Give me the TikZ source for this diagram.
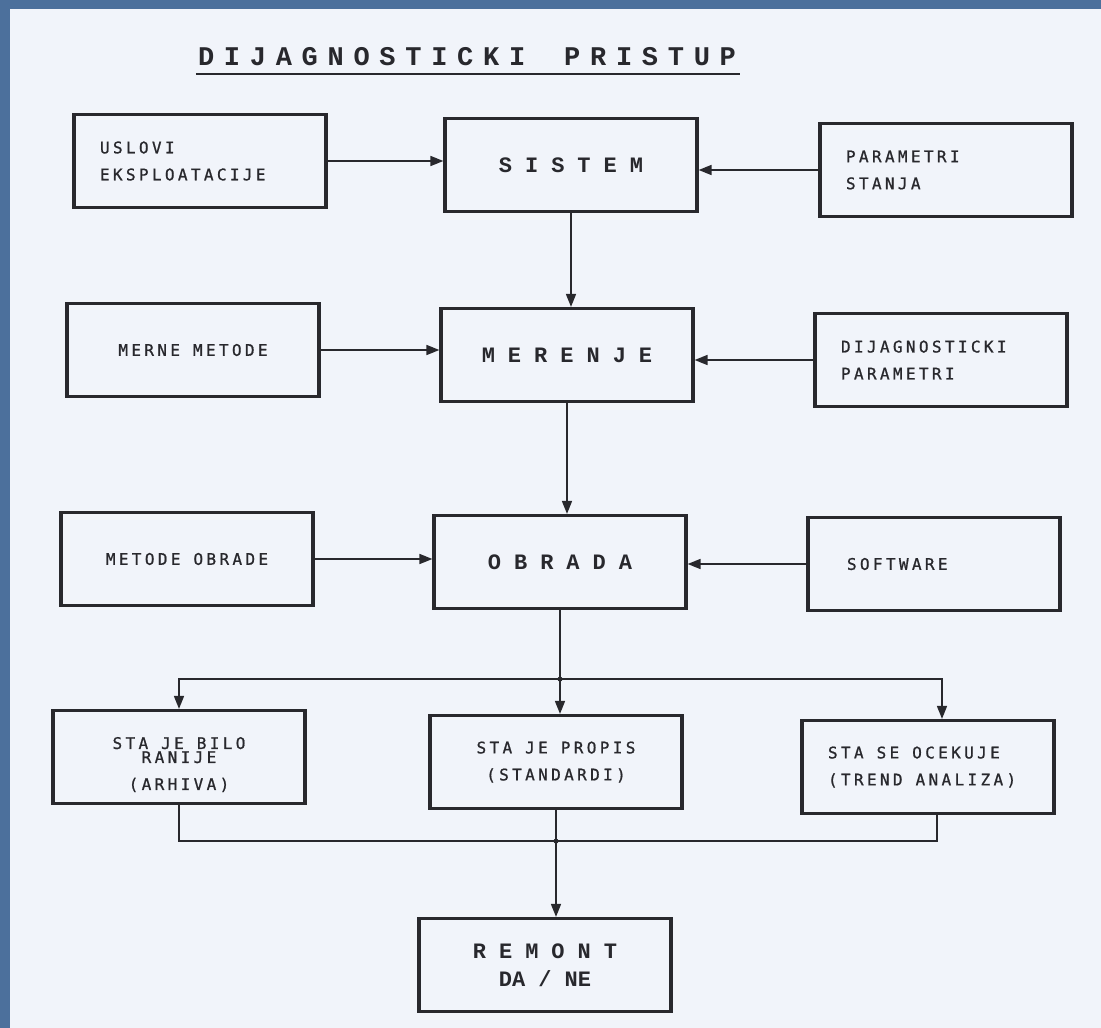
\documentclass[tikz,border=0pt]{standalone}
\usepackage{fontspec}
\usetikzlibrary{arrows.meta}
\newfontfamily\pisac[LetterSpace=21,FakeBold=1]{DejaVu Sans Mono}
\newfontfamily\stampa{Liberation Mono}
\newfontfamily\stampanaslov[LetterSpace=36,WordSpace=1.5]{Liberation Mono}
\newcommand\razmak{\spaceskip 13pt\relax}
\definecolor{pozadina}{RGB}{76,112,156}
\definecolor{papir}{RGB}{241,244,250}
\definecolor{tus}{RGB}{40,40,45}

\begin{document}
\begin{tikzpicture}[
        x=1pt, y=-1pt,
        blok/.style={
            draw=tus,
            line width=3.2pt,
            minimum width=252pt,
            minimum height=93pt,
            inner xsep=26pt,
            text=tus,
            font=\pisac\fontsize{16}{27}\selectfont,
            execute at begin node=\razmak
        },
        glavni/.style={
            blok,
            font=\stampa\bfseries\fontsize{22}{28}\selectfont
        },
        levo/.style={
            align=left,
            text width=#1
        },
        veza/.style={
            draw=tus,
            line width=1.6pt
        },
        strelica/.style={
            veza,
            -{Triangle[length=13pt,width=10pt]}
        }
    ]
    \fill[pozadina] (0,0) rectangle (1101,1028);
    \fill[papir] (10,9) rectangle (1101,1028);
    \useasboundingbox (0,0) rectangle (1101,1028);

    \node[inner sep=0pt, text=tus, font=\stampanaslov\bfseries\fontsize{27}{30}\selectfont]
        (naslov) at (467,57) {DIJAGNOSTICKI PRISTUP};
    \draw[tus, line width=2pt] ([xshift=-2pt,yshift=-8pt]naslov.south west)
        -- ([xshift=4pt,yshift=-8pt]naslov.south east);

    % gornji red
    \node[blok, levo=200pt] (uslovi) at (200,161) {USLOVI\\EKSPLOATACIJE};
    \node[glavni] (sistem) at (571,165) {S I S T E M};
    \node[blok, levo=200pt] (stanje) at (946,170) {PARAMETRI\\STANJA};

    % merenje
    \node[blok] (merne) at (193,350) {MERNE METODE};
    \node[glavni] (merenje) at (567,355) {M E R E N J E};
    \node[blok, levo=200pt] (dijag) at (941,360) {DIJAGNOSTICKI\\PARAMETRI};

    % obrada
    \node[blok] (metode) at (187,559) {METODE OBRADE};
    \node[glavni] (obrada) at (560,562) {O B R A D A};
    \node[blok, levo=174pt, inner xsep=39pt] (softver) at (934,564) {SOFTWARE};

    % poredjenje
    \node[blok, align=center, text height=68pt] (arhiva) at (179,757) {STA JE BILO\\[-13pt]RANIJE\\(ARHIVA)};
    \node[blok, align=center] (propis) at (556,762) {STA JE PROPIS\\(STANDARDI)};
    \node[blok, levo=200pt] (trend) at (928,767) {STA SE OCEKUJE\\(TREND ANALIZA)};

    \node[glavni, align=center] (remont) at (545,965) {R E M O N T\\DA / NE};

    \draw[strelica] (uslovi.east) -- (uslovi.east -| sistem.west);
    \draw[strelica] (stanje.west) -- (stanje.west -| sistem.east);
    \draw[strelica] (sistem.south) -- (sistem.south |- merenje.north);
    \draw[strelica] (merne.east) -- (merne.east -| merenje.west);
    \draw[strelica] (dijag.west) -- (dijag.west -| merenje.east);
    \draw[strelica] (merenje.south) -- (merenje.south |- obrada.north);
    \draw[strelica] (metode.east) -- (metode.east -| obrada.west);
    \draw[strelica] (softver.west) -- (softver.west -| obrada.east);

    \path (obrada.south) ++(0,69) coordinate (razvod);
    \draw[veza] (obrada.south) -- (razvod);
    \draw[strelica] (razvod) -| (arhiva.north);
    \draw[strelica] (razvod) -- (razvod |- propis.north);
    \draw[strelica] (razvod) -| ([xshift=14pt]trend.north);
    \fill[tus] (razvod) circle (2.5pt);

    \path (propis.south) ++(0,31) coordinate (sabir);
    \draw[veza] (arhiva.south) |- (sabir);
    \draw[veza] ([xshift=9pt]trend.south) |- (sabir);
    \draw[veza] (propis.south) -- (sabir);
    \fill[tus] (sabir) circle (2.5pt);
    \draw[strelica] (sabir) -- (sabir |- remont.north);
\end{tikzpicture}
\end{document}
